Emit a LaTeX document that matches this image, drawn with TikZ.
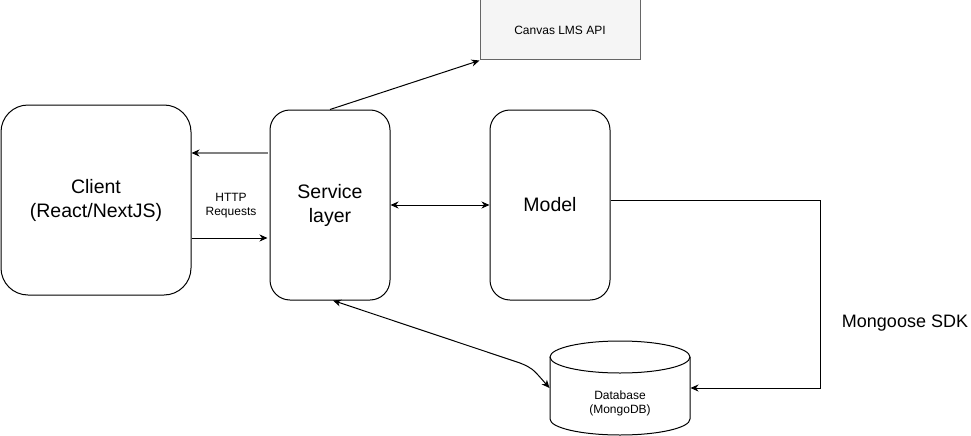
\documentclass[tikz,border=0pt]{standalone}
\usepackage{fontspec}
\setmainfont{Liberation Sans}
\usetikzlibrary{arrows.meta}

\begin{document}
\begin{tikzpicture}[x=1pt, y=-1pt, line width=1pt,
		>={Stealth[length=8pt, width=7pt, inset=2.5pt]},
		block/.style={draw, rounded corners=20pt, minimum width=120pt, minimum height=190pt,
			inner sep=0pt, align=center, font=\fontsize{19.5}{24}\selectfont},
		small/.style={align=center, font=\fontsize{12}{14}\selectfont}]
	\useasboundingbox (0,0) rectangle (971,436);
	\node (client) at (96,200)  [block, rounded corners=27pt, minimum width=190pt] {Client\\(React/NextJS)};
	\node (svc)    at (330,205) [block] {Service\\layer};
	\node (model)  at (550,205) [block] {Model};
	\node (api)    at (560,30)  [draw=black!60, fill=black!4, minimum width=160pt, minimum height=60pt, small] {Canvas LMS API};
	\node (db)     at (620,403) [minimum width=140pt, inner sep=0pt, small] {Database\\(MongoDB)};
	\node (http)   at (231,206) [small] {HTTP\\Requests};
	\node (sdk)    at (905,323) [font=\fontsize{18}{22}\selectfont] {Mongoose SDK};
	% Draw the database cylinder
	\draw (550,357) -- (550,419) arc[start angle=180, end angle=360, x radius=70pt, y radius=16pt] -- (690,357);
	\draw (620,357) ellipse[x radius=70pt, y radius=16pt];
	% Draw the connectors
	\draw[-{Stealth[length=8pt, width=7pt, inset=2.5pt, line width=1pt, black]}, draw=black!50, line width=1.8pt]
		([yshift=52pt, xshift=-2pt]svc.west) -- ([yshift=47pt]client.east);
	\draw[->] ([yshift=-38pt]client.east) -- ([yshift=-33pt, xshift=-2pt]svc.west);
	\draw[<->] (svc.east) -- (model.west);
	\draw[->] (svc.north) -- (api.south west);
	\draw[<->] ([xshift=3pt]svc.south) -- (520,363) .. controls (532,368) .. ([yshift=15pt]db.west);
	\draw[->] ([yshift=5pt]model.east) -- (820,200) |- ([yshift=15pt]db.east);
\end{tikzpicture}
\end{document}
